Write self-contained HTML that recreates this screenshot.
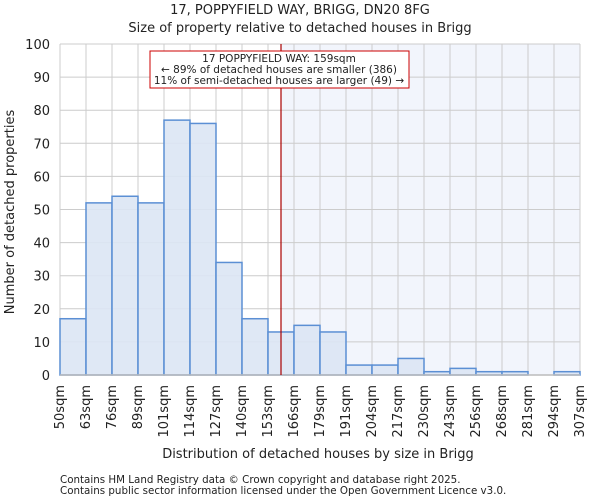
<!DOCTYPE html>
<html><head><meta charset="utf-8"><style>
body{margin:0;background:#fff;font-family:"DejaVu Sans","Liberation Sans",sans-serif}
text{font-family:"DejaVu Sans","Liberation Sans",sans-serif;fill:#222}
</style></head><body>
<svg id="c" width="600" height="500" xmlns="http://www.w3.org/2000/svg"></svg>
<script>
const categories=["50sqm","63sqm","76sqm","89sqm","101sqm","114sqm","127sqm","140sqm","153sqm","166sqm","179sqm","191sqm","204sqm","217sqm","230sqm","243sqm","256sqm","268sqm","281sqm","294sqm","307sqm"];
const counts=[17,52,54,52,77,76,34,17,13,15,13,3,3,5,1,2,1,1,0,1];
const yTicks=[0,10,20,30,40,50,60,70,80,90,100];
const binStart=50, binWidthSqm=13, marker=160.5;
const L=60,R=580,T=44,B=375,yMax=100;
const svg=document.getElementById('c');
const NS='http://www.w3.org/2000/svg';
const bw=(R-L)/counts.length;
const xs=i=>L+i*bw;
const xv=v=>L+(v-binStart)/binWidthSqm*bw;
const ys=v=>B-(v/yMax)*(B-T);
function mk(t,a,name,txt){const e=document.createElementNS(NS,t);for(const k in a)e.setAttribute(k,a[k]);if(txt!==undefined)e.textContent=txt;


svg.appendChild(e);return e;}
const mx=xv(marker);
mk('rect',{x:mx,y:T,width:R-mx,height:B-T,fill:'#f2f5fc'},'highlight-region');
yTicks.forEach(v=>mk('line',{x1:L,x2:R,y1:ys(v),y2:ys(v),stroke:'#ccc','stroke-width':1},'y-gridline'));
categories.forEach((c,i)=>mk('line',{x1:xs(i),x2:xs(i),y1:T,y2:B,stroke:'#ccc','stroke-width':1},'x-gridline'));
counts.forEach((v,i)=>{if(v>0)mk('rect',{x:xs(i),y:ys(v),width:bw,height:B-ys(v),fill:'#dbe5f4','fill-opacity':0.9,stroke:'#5b8fd4','stroke-width':1.5},'bar-'+categories[i]);});
mk('line',{x1:L,x2:R,y1:B,y2:B,stroke:'#bbb','stroke-width':1.5},'x-axis-line');
mk('line',{x1:mx,x2:mx,y1:T,y2:B,stroke:'#a00','stroke-width':1.2},'marker-line');
yTicks.forEach(v=>mk('text',{x:L-10,y:ys(v)+5,'text-anchor':'end','font-size':13},'y-tick-label',v));
categories.forEach((c,i)=>{const x=xs(i)+4,y=B+10;mk('text',{x:x,y:y,transform:`rotate(-90 ${x} ${y})`,'text-anchor':'end','font-size':13},'x-tick-label',c);});
mk('rect',{x:150,y:51,width:259,height:37,fill:'#fff',stroke:'#c00','stroke-width':1},'annotation-box');
mk('text',{x:279,y:62,'text-anchor':'middle','font-size':10.5},'annotation-line-1','17 POPPYFIELD WAY: 159sqm');
mk('text',{x:279,y:73,'text-anchor':'middle','font-size':10.5},'annotation-line-2','← 89% of detached houses are smaller (386)');
mk('text',{x:279,y:84,'text-anchor':'middle','font-size':10.5},'annotation-line-3','11% of semi-detached houses are larger (49) →');
mk('text',{x:300,y:14,'text-anchor':'middle','font-size':13},'chart-title','17, POPPYFIELD WAY, BRIGG, DN20 8FG');
mk('text',{x:300,y:32,'text-anchor':'middle','font-size':13},'chart-subtitle','Size of property relative to detached houses in Brigg');
mk('text',{x:318,y:458,'text-anchor':'middle','font-size':13},'x-axis-title','Distribution of detached houses by size in Brigg');
mk('text',{x:14,y:212,transform:'rotate(-90 14 212)','text-anchor':'middle','font-size':13},'y-axis-title','Number of detached properties');
mk('text',{x:60,y:483,'font-size':10.3,fill:'#444'},'footer-line-1','Contains HM Land Registry data © Crown copyright and database right 2025.');
mk('text',{x:60,y:494,'font-size':10.3,fill:'#444'},'footer-line-2','Contains public sector information licensed under the Open Government Licence v3.0.');
</script>
</body></html>
